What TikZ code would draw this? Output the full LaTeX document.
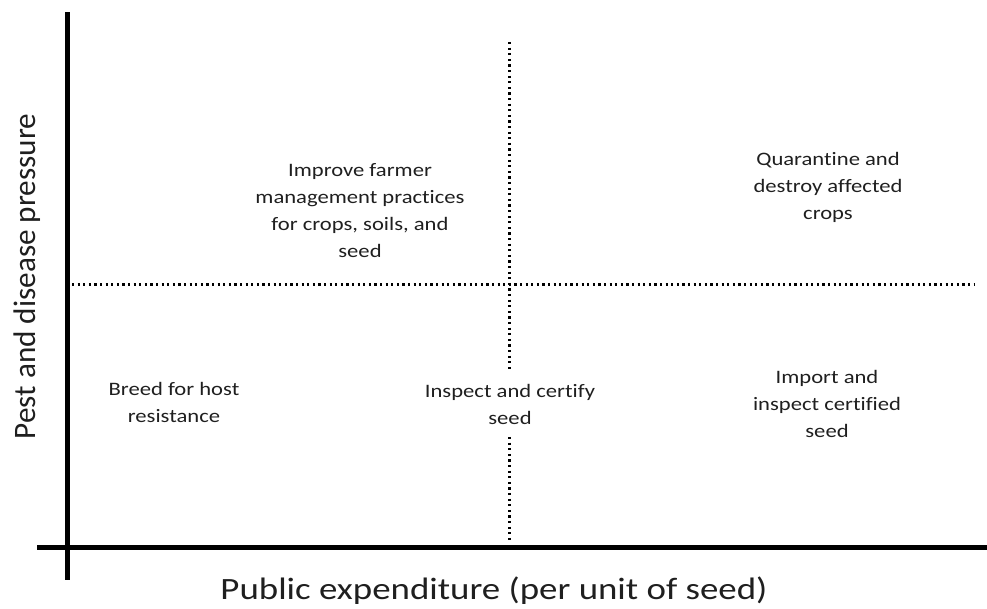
\documentclass[tikz,border=0pt]{standalone}
\usepackage{fontspec}
\setmainfont{Carlito}[FakeStretch=1.19, Ligatures=NoCommon]
\newfontfamily\uprightlabel{Carlito}[Ligatures=NoCommon]
\begin{document}
\begin{tikzpicture}[x=1pt,y=1pt,
  axis/.style={line width=4.5pt},
  divider/.style={line width=2.2pt, dash pattern=on 2.2pt off 3.4pt},
  quadtext/.style={align=center, inner sep=0pt, font=\fontsize{19}{27}\selectfont, text=black!88},
  axislabel/.style={inner sep=0pt, font=\fontsize{31}{36}\selectfont, text=black!88}]
\useasboundingbox (0,0) rectangle (987,609);

% axes
\coordinate (ytop) at (67.5,597);
\coordinate (ybot) at (67.5,29);
\coordinate (xleft) at (37,61.5);
\coordinate (xright) at (987,61.5);
\draw[axis] (ybot) -- (ytop);
\draw[axis] (xleft) -- (xright);

% quadrant texts (anchored at the baseline of their last line)
\node[quadtext, anchor=base] (improve) at (360,351)
  {Improve farmer\\management practices\\for crops, soils, and\\seed};
\node[quadtext, anchor=base] (quarantine) at (828,389)
  {Quarantine and\\destroy affected\\crops};
\node[quadtext, anchor=base] (breed) at (174,186)
  {Breed for host\\resistance};
\node[quadtext, anchor=base] (inspect) at (510,184)
  {Inspect and certify\\seed};
\node[quadtext, anchor=base] (import) at (827,171)
  {Import and\\inspect certified\\seed};

% dividing lines
\coordinate (hleft) at (72,324.5);
\coordinate (hright) at (975,324.5);
\coordinate (vtop) at (509.5,567);
\coordinate (vbot) at (509.5,66);
\coordinate (vgaptop) at (509.5,240);
\coordinate (vgapbot) at (509.5,172);
\draw[divider] (hleft) -- (hright);
\draw[divider] (vtop) -- (vgaptop);
\draw[divider] (vgapbot) -- (vbot);

% axis labels
\node[axislabel, font=\fontsize{31.2}{36}\uprightlabel, anchor=base, rotate=90] (ylabel) at (35,332.5) {Pest and disease pressure};
\node[axislabel, anchor=base] (xlabel) at (494,9) {Public expenditure (per unit of seed)};
\end{tikzpicture}
\end{document}
